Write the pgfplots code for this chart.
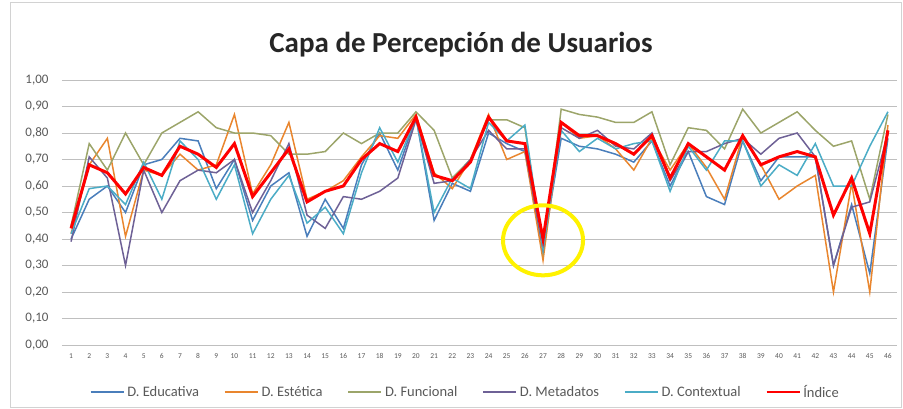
\documentclass[border=0pt]{standalone}
\usepackage{pgfplots}
\pgfplotsset{compat=1.18}
\usepackage{pgfplotstable}
\usepackage{fontspec}
\setmainfont{Carlito}
\definecolor{cEdu}{HTML}{4A7EBB}
\definecolor{cEst}{HTML}{E9862E}
\definecolor{cFun}{HTML}{9CA56A}
\definecolor{cMet}{HTML}{6E6196}
\definecolor{cCon}{HTML}{4BACC6}
\definecolor{cInd}{HTML}{FF0000}
\definecolor{txt}{HTML}{595959}
\definecolor{grd}{HTML}{BFBFBF}
\pgfplotstableread{
x edu est fun met con ind
1 0.40 0.42 0.45 0.39 0.42 0.44
2 0.55 0.68 0.76 0.71 0.59 0.68
3 0.60 0.78 0.66 0.63 0.60 0.65
4 0.50 0.41 0.80 0.30 0.53 0.57
5 0.68 0.66 0.68 0.66 0.69 0.67
6 0.70 0.64 0.80 0.50 0.55 0.64
7 0.78 0.72 0.84 0.62 0.77 0.75
8 0.77 0.66 0.88 0.66 0.70 0.72
9 0.59 0.68 0.82 0.65 0.55 0.67
10 0.70 0.87 0.80 0.70 0.68 0.76
11 0.47 0.57 0.80 0.50 0.42 0.56
12 0.60 0.68 0.79 0.62 0.55 0.65
13 0.65 0.84 0.72 0.76 0.64 0.74
14 0.41 0.55 0.72 0.49 0.46 0.54
15 0.55 0.58 0.73 0.44 0.52 0.58
16 0.44 0.62 0.80 0.56 0.42 0.60
17 0.68 0.71 0.76 0.55 0.65 0.70
18 0.80 0.79 0.80 0.58 0.82 0.76
19 0.66 0.78 0.80 0.63 0.69 0.73
20 0.86 0.87 0.88 0.85 0.86 0.86
21 0.47 0.65 0.81 0.61 0.50 0.64
22 0.61 0.59 0.63 0.62 0.63 0.62
23 0.58 0.70 0.70 0.70 0.59 0.69
24 0.80 0.87 0.85 0.81 0.84 0.86
25 0.76 0.70 0.85 0.74 0.77 0.77
26 0.73 0.73 0.82 0.74 0.83 0.76
27 0.36 0.32 0.35 0.36 0.36 0.40
28 0.78 0.84 0.89 0.82 0.81 0.84
29 0.75 0.78 0.87 0.78 0.73 0.79
30 0.74 0.79 0.86 0.81 0.78 0.79
31 0.72 0.74 0.84 0.75 0.74 0.76
32 0.69 0.66 0.84 0.74 0.76 0.72
33 0.77 0.78 0.88 0.80 0.77 0.79
34 0.60 0.66 0.68 0.62 0.58 0.63
35 0.73 0.76 0.82 0.73 0.75 0.76
36 0.56 0.67 0.81 0.73 0.66 0.71
37 0.53 0.55 0.74 0.76 0.77 0.66
38 0.77 0.79 0.89 0.78 0.77 0.79
39 0.62 0.68 0.80 0.72 0.60 0.68
40 0.71 0.55 0.84 0.78 0.68 0.71
41 0.71 0.60 0.88 0.80 0.64 0.73
42 0.71 0.64 0.81 0.71 0.76 0.71
43 0.30 0.20 0.75 0.30 0.60 0.49
44 0.53 0.61 0.77 0.52 0.60 0.63
45 0.27 0.20 0.55 0.54 0.75 0.42
46 0.78 0.83 0.87 0.80 0.88 0.81
}\data
\begin{document}
\begin{tikzpicture}
\path[use as bounding box] (0,0) rectangle (903pt,408pt);
\draw[grd!70, line width=0.8pt] (10pt,1pt) rectangle (901pt,406pt);
\node[font=\fontsize{29}{34}\selectfont\bfseries, text=black!85] at (461pt,363pt) {Capa de Percepción de Usuarios};
\begin{axis}[
  at={(62pt,63pt)}, anchor=south west,
  scale only axis, width=835pt, height=265pt,
  xmin=0.5, xmax=46.5, ymin=0, ymax=1,
  xtick={1,...,46},
  ytick={0,0.1,...,1.01},
  ymajorgrids, grid style={grd, line width=0.9pt},
  axis line style={draw=none},
  major tick length=0pt,
  y tick label style={/pgf/number format/.cd, fixed, fixed zerofill, precision=2, use comma, /tikz/.cd, font=\fontsize{13}{14}\selectfont, text=txt},
  x tick label style={font=\fontsize{7.5}{8}\selectfont, text=txt},
  /pgf/number format/assume math mode=true,
  yticklabel shift=10pt,
  xticklabel shift=5pt,
  legend columns=6,
  legend style={at={(0.483,-0.177)}, anchor=center, draw=none, font=\fontsize{14.5}{16}\selectfont, text=txt, column sep=1pt},
  /tikz/every even column/.append style={column sep=23pt},
  legend image code/.code={\draw[line width=1.5pt, #1] (0pt,0pt) -- (33pt,0pt);},
]
\addplot[cEdu, line width=1.5pt, no markers] table[x=x, y=edu] {\data};
\addlegendentry{D. Educativa}
\addplot[cEst, line width=1.5pt, no markers] table[x=x, y=est] {\data};
\addlegendentry{D. Estética}
\addplot[cFun, line width=1.5pt, no markers] table[x=x, y=fun] {\data};
\addlegendentry{D. Funcional}
\addplot[cMet, line width=1.5pt, no markers] table[x=x, y=met] {\data};
\addlegendentry{D. Metadatos}
\addplot[cCon, line width=1.5pt, no markers] table[x=x, y=con] {\data};
\addlegendentry{D. Contextual}
\addplot[cInd, line width=3pt, no markers] table[x=x, y=ind] {\data};
\addlegendentry{Índice}
\draw[yellow, line width=4pt] (axis cs:27,0.395) ellipse [x radius=40pt, y radius=35pt];
\end{axis}
\end{tikzpicture}
\end{document}
